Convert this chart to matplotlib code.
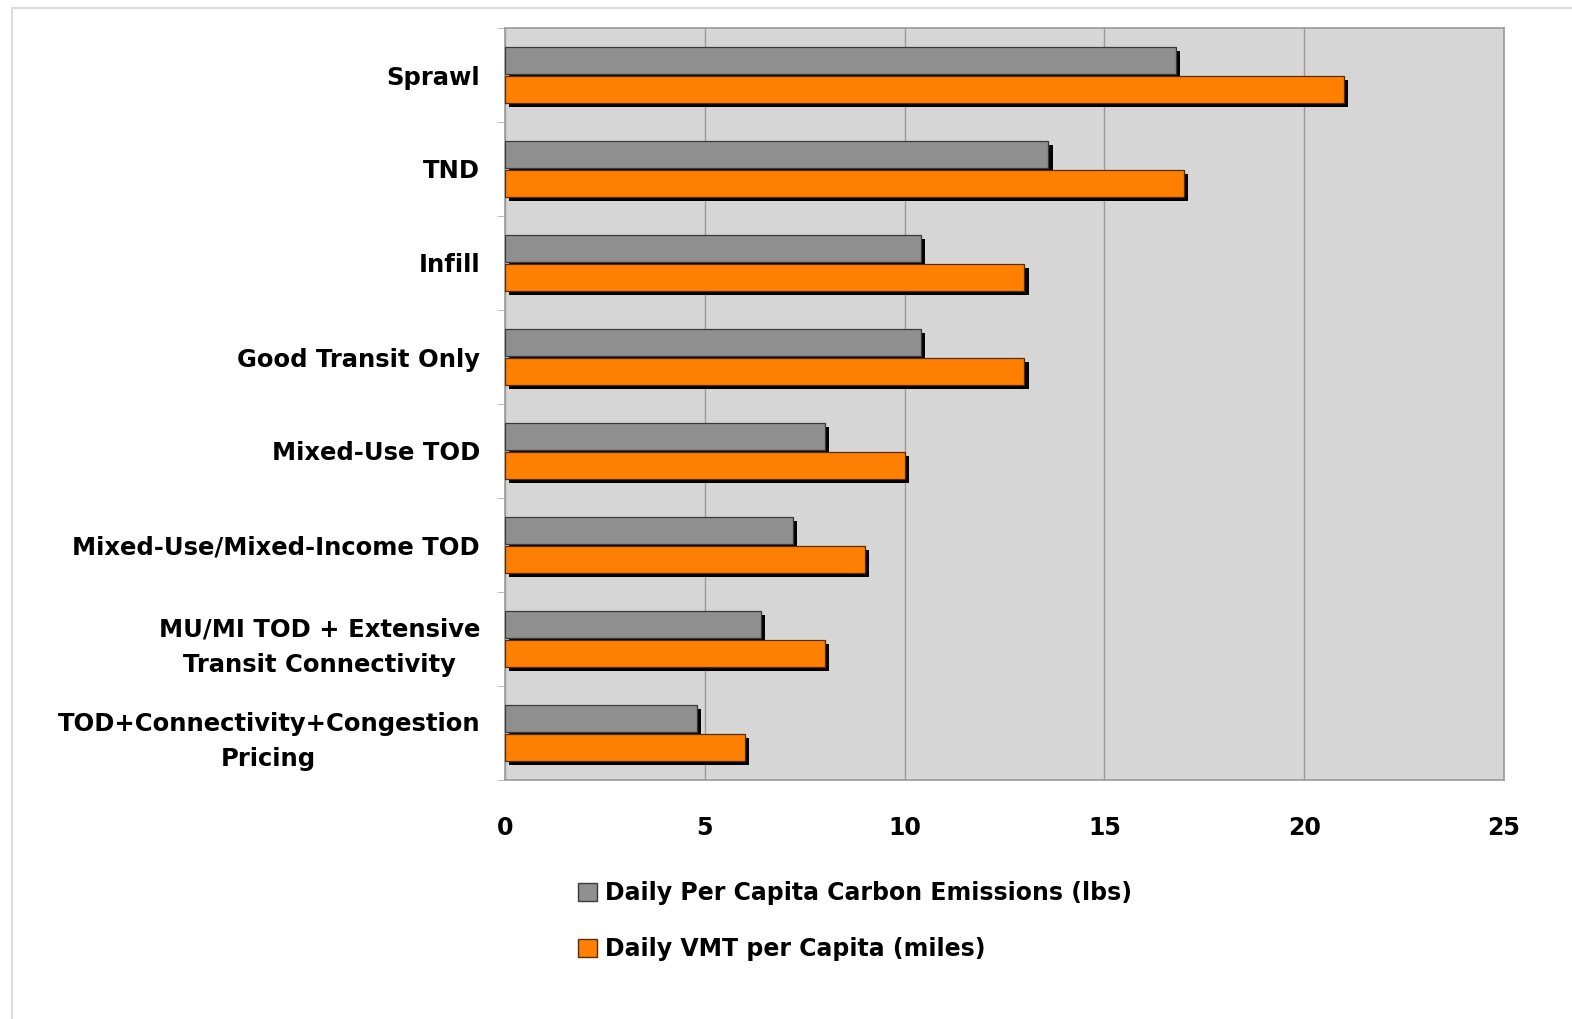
import matplotlib
matplotlib.use("Agg")
import matplotlib.pyplot as plt
import matplotlib.patheffects as pe
from matplotlib.patches import Patch, Rectangle
import numpy as np

categories = [
    "Sprawl",
    "TND",
    "Infill",
    "Good Transit Only",
    "Mixed-Use TOD",
    "Mixed-Use/Mixed-Income TOD",
    "MU/MI TOD + Extensive\nTransit Connectivity",
    "TOD+Connectivity+Congestion\nPricing",
]
carbon_lbs = [16.8, 13.6, 10.4, 10.4, 8.0, 7.2, 6.4, 4.8]
vmt_miles = [21.0, 17.0, 13.0, 13.0, 10.0, 9.0, 8.0, 6.0]
series_labels = ["Daily Per Capita Carbon Emissions (lbs)", "Daily VMT per Capita (miles)"]
x_ticks = [0, 5, 10, 15, 20, 25]

grey = "#8f8f8f"
orange = "#ff8000"
bg = "#d6d6d6"
fs = 17.5

plt.rcParams["font.family"] = ["DejaVu Sans"]
plt.rcParams["font.weight"] = "bold"

fig = plt.figure(figsize=(15.72, 10.19), dpi=100)
fig.patch.set_facecolor("white")

# faint outer frame of the chart area
fig.add_artist(Rectangle((12 / 1572, -0.01), 1.0, 1 - 8 / 1019 + 0.01,
                         transform=fig.transFigure, fill=False,
                         edgecolor="#dcdcdc", linewidth=1.5))

ax = fig.add_axes([505 / 1572, 1 - 780 / 1019, (1504 - 505) / 1572, (780 - 28) / 1019])
ax.set_facecolor(bg)

n = len(categories)
y = np.arange(n)
h = 0.285
shadow = [pe.SimplePatchShadow(offset=(3.0, -3.0), shadow_rgbFace="black", alpha=1.0), pe.Normal()]

ax.barh(y - h / 2 - 0.01, carbon_lbs, height=h, color=grey, edgecolor="#3a3a3a",
        linewidth=0.9, path_effects=shadow, zorder=3)
ax.barh(y + h / 2 + 0.01, vmt_miles, height=h, color=orange, edgecolor="#5a2a00",
        linewidth=0.9, path_effects=shadow, zorder=3)

ax.set_ylim(n - 0.5, -0.5)
ax.set_xlim(0, 25)
ax.set_xticks(x_ticks)
ax.set_xticklabels([str(t) for t in x_ticks], fontsize=fs - 0.5, fontweight="bold")
ax.set_yticks(y)
ax.set_yticklabels(categories, fontsize=fs, fontweight="bold",
                   multialignment="center", linespacing=1.6)
ax.set_yticks(np.arange(n + 1) - 0.5, minor=True)
ax.tick_params(axis="y", which="major", length=0, pad=18)
ax.tick_params(axis="y", which="minor", length=6, color="#b0b0b0", direction="out")
ax.tick_params(axis="x", length=0, pad=26)

ax.grid(axis="x", color="#9a9a9a", linewidth=1.0, zorder=0)
ax.set_axisbelow(True)
for side, sp in ax.spines.items():
    sp.set_color("#9a9a9a")
    sp.set_linewidth(1.2)

handles = [Patch(facecolor=grey, edgecolor="#3a3a3a"), Patch(facecolor=orange, edgecolor="#5a2a00")]
fig.legend(handles, series_labels, loc="upper left", bbox_to_anchor=(557 / 1572, 1 - 860 / 1019),
           frameon=False, prop={"weight": "bold", "size": 17},
           handlelength=0.8, handleheight=0.8, handletextpad=0.35, labelspacing=1.35)

fig.savefig("out.png", dpi=100, facecolor="white")
